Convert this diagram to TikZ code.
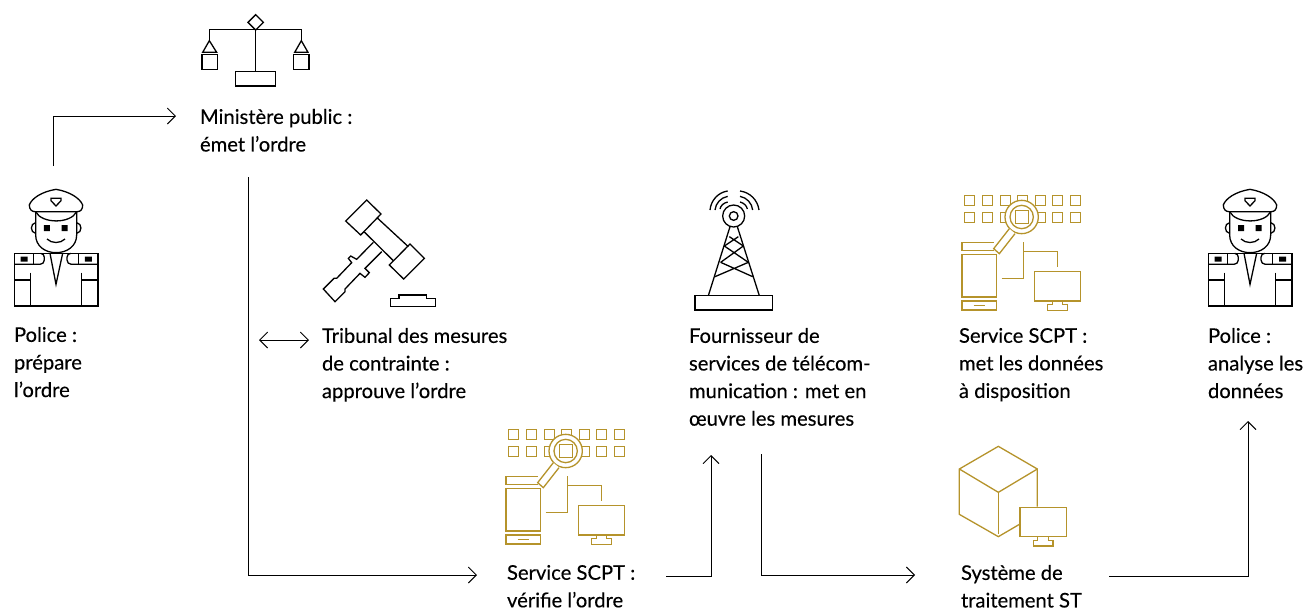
\documentclass[tikz,border=0pt]{standalone}
\usepackage{fontspec}
\setmainfont{Lato}[FakeBold=0.25]
\usetikzlibrary{arrows.meta}
\definecolor{gold}{HTML}{B5932B}
\tikzset{
  x=1pt,y=-1pt,
  lbl/.style={anchor=north west,inner sep=0pt,outer sep=0pt,align=left,font=\fontsize{20.2}{27.6}\selectfont,text=black},
  iconbox/.style={inner sep=0pt,outer sep=0pt,minimum width=#1},
  ln/.style={line width=1.3pt,line join=miter,black},
  gln/.style={line width=1.3pt,line join=miter,gold},
  conn/.style={line width=0.9pt,black,-{Straight Barb[length=8pt,width=16pt,line width=0.9pt]}},
  conn2/.style={line width=0.9pt,black,{Straight Barb[length=8pt,width=16pt,line width=0.9pt]}-{Straight Barb[length=8pt,width=16pt,line width=0.9pt]}},
  zoomed/.style={shift={#1},x=0.33333pt,y=-0.33333pt},
}
\newcommand{\policeicon}[1]{%
\begin{scope}[zoomed={#1},ln]
  \draw (44,250) rectangle (294,408);
  \draw (44,283) -- (120,283) to[out=0,in=-90] (133,270) -- (133,262) to[out=90,in=0] (122,250);
  \draw (294,283) -- (214,283) to[out=180,in=-90] (201,270) -- (201,262) to[out=90,in=180] (212,250);
  \draw (100,250) -- (100,283) (235,250) -- (235,283);
  \fill[black] (62,260) rectangle (83,275) (255,260) rectangle (276,275);
  \draw (92,308) -- (92,408) (245,308) -- (245,408);
  \draw (44,330) -- (92,330) (245,330) -- (294,330);
  \draw (150,250) -- (168,343) -- (188,250);
  \draw (107,125) -- (107,195) .. controls (107,228) and (135,248) .. (168,248) .. controls (202,248) and (230,228) .. (230,195) -- (230,125);
  \draw (107,158) .. controls (90,160) and (90,188) .. (107,190);
  \draw (230,158) .. controls (247,160) and (247,188) .. (230,190);
  \fill[black] (132,165) rectangle (150,183) (185,165) rectangle (203,183);
  \draw (141,207) .. controls (155,221) and (181,221) .. (195,207);
  \draw (168,58) .. controls (125,65) and (95,85) .. (88,105) .. controls (88,118) and (95,125) .. (105,125) -- (232,125) .. controls (242,125) and (248,118) .. (248,105) .. controls (240,85) and (210,65) .. cycle;
  \draw (107,125) .. controls (125,162) and (212,162) .. (230,125);
  \draw (153,85) -- (183,85) -- (183,92) -- (168,108) -- (153,92) -- cycle;
\end{scope}}
\newcommand{\scpticon}[1]{%
\begin{scope}[zoomed={#1},gln]
  \foreach \xx in {40.5,94.5,148.5,199.5,253.5,304.5,358.5} {
    \draw (\xx,28.5) rectangle ++(30,30);
    \draw (\xx,79.5) rectangle ++(30,30);
  }
  \draw[fill=white] (212,93) circle[radius=50];
  \draw (212,93) circle[radius=35];
  \draw (193.5,73.5) rectangle (232.5,112.5);
  \draw[fill=white] (175,128) -- (128,188) -- (145,203) -- (192,143);
  \draw (128,170) -- (33,170) -- (33,193) -- (128,193);
  \draw (33,205) rectangle (137,333);
  \draw (33,345) rectangle (137,372);
  \draw (68,358) -- (102,358);
  \draw (152,278) -- (217,278) -- (217,168);
  \draw (217,196) -- (320,196) -- (320,242);
  \draw (250,257) rectangle (388,345);
  \draw (305,345) -- (305,355) -- (290,355) -- (290,373) -- (350,373) -- (350,355) -- (335,355) -- (335,345);
\end{scope}}
\begin{document}
\begin{tikzpicture}
\useasboundingbox (0,0) rectangle (1306,608);
% icon anchors
\node[iconbox=90pt,minimum height=144pt] (policeA) at (53,238) {};
\node[iconbox=90pt,minimum height=144pt] (policeB) at (1247,238) {};
\policeicon{(0,170)}
\policeicon{(1194,170)}
% scales
\begin{scope}[zoomed={(180,0)},ln]
  \draw (227,44) -- (250,67) -- (227,90) -- (204,67) -- cycle;
  \draw (88,122) -- (88,88) -- (364,88) -- (364,122);
  \draw (227,88) -- (227,215);
  \draw (167,215) rectangle (287,258);
  \draw (88,122) -- (68,157) -- (110,157) -- cycle;
  \draw (364,122) -- (344,157) -- (384,157) -- cycle;
  \draw (66,163) rectangle (112,208);
  \draw (341,163) rectangle (387,208);
\end{scope}
% gavel
\begin{scope}[zoomed={(310,190)},ln]
  \draw (170,30) -- (213,72) -- (152,135) -- (107,93) -- cycle;
  \draw (300,162) -- (343,205) -- (281,267) -- (238,225) -- cycle;
  \draw (202,84) -- (295,170) (163,126) -- (250,212);
  \draw (190,157) -- (140,208) -- (122,198) -- (115,205) -- (125,218) -- (80,265) -- (72,265) -- (40,297) -- (75,335) -- (105,305) -- (105,297) -- (150,250) -- (165,262) -- (178,248) -- (165,235) -- (215,185);
  \draw (242,350) -- (377,350) -- (377,325) -- (350,325) -- (350,315) -- (267,315) -- (267,325) -- (242,325) -- cycle;
\end{scope}
% tower
\begin{scope}[zoomed={(680,185)},ln]
  \draw (45,332) rectangle (277,375);
  \draw (85,332) -- (150,125) (238,332) -- (172,125);
  \draw (161,93) circle[radius=33] (161,93) circle[radius=13];
  \draw (148,155) -- (190,183) (175,155) -- (133,183);
  \draw (133,183) -- (205,232) (190,183) -- (122,232);
  \draw (122,232) -- (218,275) (205,232) -- (105,275);
  \draw (120,72) .. controls (122,62) and (130,54) .. (143,51);
  \draw (105,75) .. controls (107,55) and (122,38) .. (143,34);
  \draw (90,75) .. controls (93,45) and (115,22) .. (143,18);
  \draw (202,72) .. controls (200,62) and (192,54) .. (180,51);
  \draw (218,75) .. controls (216,55) and (201,38) .. (180,34);
  \draw (237,75) .. controls (233,45) and (210,22) .. (180,18);
\end{scope}
\scpticon{(495,420)}
\scpticon{(951,186)}
% cube
\begin{scope}[zoomed={(950,455)},gln]
  \draw (262,155) -- (262,42) -- (145,-26) -- (28,42) -- (28,178) -- (145,245) -- (210,207);
  \draw (28,42) -- (145,112) -- (262,42);
  \draw (145,112) -- (145,238);
  \draw (210,157) rectangle (349,245);
  \draw (263,245) -- (263,257) -- (250,257) -- (250,273) -- (309,273) -- (309,257) -- (295,257) -- (295,245);
\end{scope}
% labels
\node[lbl] (tPoliceA) at (14,327) {Police :\\prépare\\l’ordre};
\node[lbl] (tMin) at (200,109) {Ministère public :\\émet l’ordre};
\node[lbl] (tTrib) at (322,328) {Tribunal des mesures\\de contrainte :\\approuve l’ordre};
\node[lbl] (tScptA) at (507,565) {Service SCPT :\\vérifie l’ordre};
\node[lbl] (tFour) at (689,328) {Fournisseur de\\services de télécom-\\muni{}cation : met en\\œuvre les mesures};
\node[lbl] (tScptB) at (959,328) {Service SCPT :\\met les données\\à disposi{}tion};
\node[lbl] (tSys) at (961,565) {Système de\\traitement ST};
\node[lbl] (tPoliceB) at (1208,328) {Police :\\analyse les\\données};
% connectors
\draw[conn] (policeA.north) |- ([xshift=-24pt,yshift=-7pt]tMin.north west);
\draw[conn] ([xshift=48pt,yshift=-68pt]tMin.north west) |- ([xshift=-30pt,yshift=-10pt]tScptA.north west);
\draw[conn2] ([xshift=-63pt,yshift=-12pt]tTrib.north west) -- ([xshift=-13pt,yshift=-12pt]tTrib.north west);
\draw[conn] ([xshift=159pt,yshift=-11pt]tScptA.north west) -| ([xshift=22pt,yshift=-127pt]tFour.north west);
\draw[conn] ([xshift=72pt,yshift=-126pt]tFour.north west) |- ([xshift=-46pt,yshift=-10pt]tSys.north west);
\draw[conn] ([xshift=148pt,yshift=-11pt]tSys.north west) -| ([xshift=40pt,yshift=-93pt]tPoliceB.north west);
\end{tikzpicture}
\end{document}
